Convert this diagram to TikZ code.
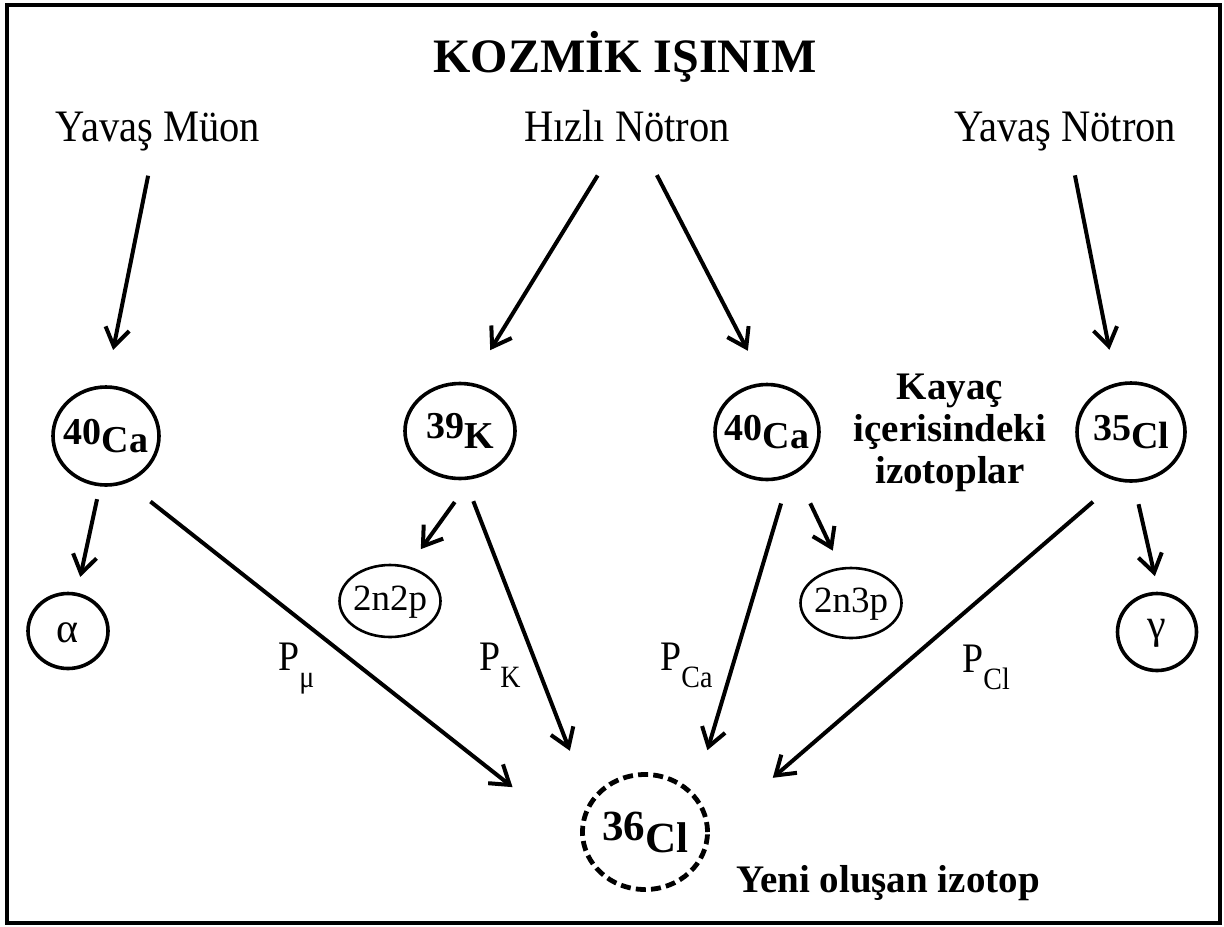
\documentclass[tikz,border=0pt]{standalone}
\usepackage{fontspec}
\setmainfont{Liberation Serif}
\newfontfamily\narrowfont[FakeStretch=0.9]{Liberation Serif}
\usepackage{tikz}
\usetikzlibrary{shapes.geometric, arrows.meta}

% mass number, symbol, raise of the number, shift of the whole
\newcommand{\iso}[4]{\makebox[0pt]{\raisebox{#4}[0pt][0pt]{\raisebox{#3}{#1}#2}}}
\newcommand{\ptext}[2]{\makebox[0pt]{\raisebox{#2}[0pt][0pt]{#1}}}
\newcommand{\prob}[1]{P\raisebox{-8.5pt}{\fontsize{15.5}{15.5}\selectfont #1}}

\begin{document}
\begin{tikzpicture}[
    x=0.5pt, y=-0.5pt,
    isotope/.style={ellipse, draw, line width=1.8pt, inner sep=0pt, font=\fontsize{19}{19}\selectfont\bfseries},
    particle/.style={ellipse, draw, line width=1.3pt, inner sep=0pt, font=\fontsize{18.5}{18.5}\selectfont},
    ray/.style={inner sep=0pt, anchor=base, text depth=0pt, font=\narrowfont\fontsize{22.5}{22.5}\selectfont},
    arr/.style={line width=2pt, -{Straight Barb[length=9pt, width=12pt]}},
    plabel/.style={inner sep=0pt, anchor=base west, font=\narrowfont\fontsize{21}{21}\selectfont}
]

\useasboundingbox (0,0) rectangle (1224,926);
\draw[line width=2.4pt] (7,5) rectangle (1220,923);

% Title and the three kinds of radiation
\node[inner sep=0pt, anchor=base, font=\fontsize{24}{24}\selectfont\bfseries] (title) at (625,72) {KOZMİK IŞINIM};
\node[ray] (muon) at (158,141) {Yavaş Müon};
\node[ray] (fast) at (627,141) {Hızlı Nötron};
\node[ray] (slow) at (1065,141) {Yavaş Nötron};

% Target isotopes in the rock
\node[isotope, minimum width=53pt, minimum height=49pt] (ca1) at (106,436) {\iso{40}{Ca}{4pt}{-8pt}};
\node[isotope, minimum width=55pt, minimum height=47.5pt] (k39) at (460,431) {\iso{39}{K}{5pt}{-8.5pt}};
\node[isotope, minimum width=52pt, minimum height=47.5pt] (ca2) at (767,432) {\iso{40}{Ca}{4pt}{-8pt}};
\node[isotope, minimum width=54pt, minimum height=49pt] (cl35) at (1131,432) {\iso{35}{Cl}{4pt}{-8pt}};
\node[align=center, inner sep=0pt, font=\fontsize{19.5}{21}\selectfont\bfseries] (rock) at (950,433) {Kayaç\\içerisindeki\\izotoplar};

% Emitted particles
\node[particle, line width=1.8pt, minimum width=40pt, minimum height=37.5pt, font=\fontsize{21}{21}\selectfont] (alpha) at (68,631) {\ptext{α}{-5.5pt}};
\node[particle, minimum width=50.5pt, minimum height=36pt] (n2p) at (390,601) {\ptext{2n2p}{-4.5pt}};
\node[particle, minimum width=50.5pt, minimum height=35pt] (n3p) at (851,603) {\ptext{2n3p}{-4.5pt}};
\node[particle, line width=1.8pt, minimum width=39.5pt, minimum height=38.5pt, font=\fontsize{21}{21}\selectfont] (gamma) at (1157,632) {\ptext{γ}{-3pt}};

% New isotope
\node[isotope, minimum width=62.5pt, minimum height=57.5pt, line width=2.4pt, dash pattern=on 5pt off 2.6pt, font=\fontsize{21.5}{21.5}\selectfont\bfseries] (cl36) at (645,832) {\iso{36}{Cl}{6pt}{-10pt}};
\node[inner sep=0pt, anchor=base, font=\fontsize{19.5}{19.5}\selectfont\bfseries] (new) at (888,892) {Yeni oluşan izotop};

% Radiation to targets
\draw[arr, shorten <=17.5pt, shorten >=18pt] ([xshift=-1.5pt]muon.south) -- (ca1.north);
\draw[arr, shorten <=20pt, shorten >=19pt] ([xshift=-4.2pt]fast.south) -- (k39.78);
\draw[arr, shorten <=19pt, shorten >=18pt] ([xshift=6.2pt]fast.south) -- (ca2.93);
\draw[arr, shorten <=17.3pt, shorten >=17pt] ([xshift=1.6pt]slow.south) -- (cl35.107);

% Reactions
\draw[arr, shorten <=6.5pt, shorten >=8pt] (ca1.-97) -- (alpha.77);
\draw[arr, shorten <=15pt, shorten >=43.5pt] (ca1.-66) -- (cl36.188);
\draw[arr, shorten <=14pt, shorten >=10.5pt] (k39.-77) -- (n2p.62);
\draw[arr, shorten <=11.3pt, shorten >=27pt] (k39.-84) -- (cl36.151);
\draw[arr, shorten <=13.8pt, shorten >=22.5pt] (ca2.-64) -- (cl36.38);
\draw[arr, shorten <=16.5pt, shorten >=9.3pt] (ca2.-55) -- (n3p.106);
\draw[arr, shorten <=15.8pt, shorten >=41.5pt] (cl35.-106) -- (cl36.east);
\draw[arr, shorten <=11pt, shorten >=8pt] (cl35.-87) -- (gamma.88);

% Production rates
\node[plabel] (pmu) at (278,670) {\prob{μ}};
\node[plabel] (pk) at (479,670) {\prob{K}};
\node[plabel] (pca) at (660,670) {\prob{Ca}};
\node[plabel] (pcl) at (962,672) {\prob{Cl}};

\end{tikzpicture}
\end{document}
